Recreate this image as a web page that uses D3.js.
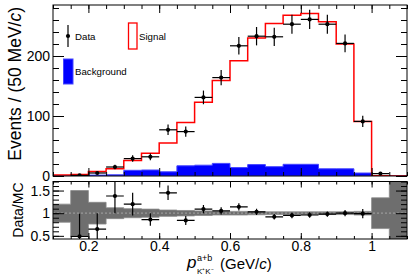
<!DOCTYPE html>
<html>
<head>
<meta charset="utf-8">
<script src="https://cdn.jsdelivr.net/npm/d3@7"></script>
<style>
body { margin: 0; background: #fff; }
text { font-family: "Liberation Sans", Arial, sans-serif; fill: #000; }
</style>
</head>
<body>
<div id="main"></div>
<script>
// bins of 50 MeV/c, low edges
var binLow = [0.10, 0.15, 0.20, 0.25, 0.30, 0.35, 0.40, 0.45, 0.50, 0.55,
  0.60, 0.65, 0.70, 0.75, 0.80, 0.85, 0.90, 0.95, 1.00, 1.05];
var binWidth = 0.05;

var dataCounts = [null, 1, 5, 15, 29, 32, 77, 74, 131, 164, 217, 233, 232, 253, 261, 253, 221, 91, 4, null];
var dataErrors = [null, 1, 2.2, 3.9, 5.4, 5.7, 8.8, 8.6, 11.4, 12.8, 14.7, 15.3, 15.2, 15.9, 16.2, 15.9, 14.9, 9.5, 2, null];
var signalTotal = [1.5, 2.5, 7.5, 12, 26, 38, 55, 89, 123, 159, 192, 230, 254, 268, 271, 257, 220, 91, 0.3, 0];
var background = [0, 0.5, 1.5, 2, 9.5, 10, 7, 17, 18, 21, 14, 19, 15.5, 19.5, 19.5, 12, 12, 5, 0.5, 0];

var ratio = [null, 0.49, 0.65, 1.38, 1.2, 0.86, 1.45, 0.84, 1.09, 1.05, 1.14, 1.03, 0.92, 0.95, 0.96, 0.98, 1.0, 0.99, null, null];
var ratioErrors = [null, 0.5, 0.35, 0.38, 0.25, 0.14, 0.16, 0.1, 0.09, 0.08, 0.08, 0.07, 0.06, 0.06, 0.06, 0.06, 0.07, 0.1, null, null];
var mcBand = [0.2, 0.5, 0.24, 0.12, 0.1, 0.09, 0.07, 0.06, 0.05, 0.04, 0.04, 0.035, 0.03, 0.03, 0.03, 0.03, 0.03, 0.04, 0.34, 0.9];

var xTickLabels = [0.2, 0.4, 0.6, 0.8, 1];
var yTicksTop = [0, 100, 200];
var yTicksBottom = [0.5, 1, 1.5];
var legendLabels = ["Data", "Signal", "Background"];

var W = 411, H = 279;
var left = 53, right = 407;
var top1 = 5, bot1 = 176;
var top2 = 181.5, bot2 = 239;

var svg = d3.select("#main").append("svg")
  .attr("width", W)
  .attr("height", H);

var x = d3.scaleLinear().domain([0.1, 1.1]).range([left, right]);
var y = d3.scaleLinear().domain([0, 285]).range([bot1, top1]);
var yr = d3.scaleLinear().domain([0.43, 1.7]).range([bot2, top2]);

svg.append("clipPath").attr("id", "clipTop")
  .append("rect").attr("x", left).attr("y", top1).attr("width", right - left).attr("height", bot1 - top1);
svg.append("clipPath").attr("id", "clipBot")
  .append("rect").attr("x", left).attr("y", top2).attr("width", right - left).attr("height", bot2 - top2);

function stepPoints(vals) {
  var pts = [];
  vals.forEach(function(v, i) {
    pts.push([binLow[i], v]);
    pts.push([binLow[i] + binWidth, v]);
  });
  return pts;
}

// ---- top pad ----
var gTop = svg.append("g").attr("clip-path", "url(#clipTop)");

var bgArea = d3.area()
  .x(function(d) { return x(d[0]); })
  .y0(y(0))
  .y1(function(d) { return y(d[1]); });

gTop.append("path")
  .datum(stepPoints(background))
  .attr("d", bgArea)
  .attr("fill", "#0000ff")
  .attr("stroke", "#4646ff")
  .attr("stroke-width", 1);

var sigLine = d3.line()
  .x(function(d) { return x(d[0]); })
  .y(function(d) { return y(d[1]); });

gTop.append("path")
  .datum(stepPoints(signalTotal))
  .attr("d", sigLine)
  .attr("fill", "none")
  .attr("stroke", "#ff0000")
  .attr("stroke-width", 1.5);

var pts = binLow.map(function(lo, i) {
  return {c: lo + binWidth / 2, v: dataCounts[i], e: dataErrors[i]};
}).filter(function(d) { return d.v != null; });

var dp = gTop.selectAll(".dpt").data(pts).enter().append("g").attr("class", "dpt");
dp.append("line")
  .attr("x1", function(d) { return x(d.c - binWidth / 2); })
  .attr("x2", function(d) { return x(d.c + binWidth / 2); })
  .attr("y1", function(d) { return y(d.v); })
  .attr("y2", function(d) { return y(d.v); })
  .attr("stroke", "#000").attr("stroke-width", 1.2);
dp.append("line")
  .attr("x1", function(d) { return x(d.c); })
  .attr("x2", function(d) { return x(d.c); })
  .attr("y1", function(d) { return y(d.v - d.e); })
  .attr("y2", function(d) { return y(d.v + d.e); })
  .attr("stroke", "#000").attr("stroke-width", 1.2);
dp.append("circle")
  .attr("cx", function(d) { return x(d.c); })
  .attr("cy", function(d) { return y(d.v); })
  .attr("r", 2.1)
  .attr("fill", "#000");

// ---- bottom pad ----
var gBot = svg.append("g").attr("clip-path", "url(#clipBot)");

var bandArea = d3.area()
  .x(function(d) { return x(d[0]); })
  .y0(function(d) { return yr(1 - d[1]); })
  .y1(function(d) { return yr(1 + d[1]); });

gBot.append("path")
  .datum(stepPoints(mcBand))
  .attr("d", bandArea)
  .attr("fill", "#6e6e6e")
  .attr("stroke", "#8a8a8a")
  .attr("stroke-width", 0.8);

gBot.append("line")
  .attr("x1", x(0.1)).attr("x2", x(1.1))
  .attr("y1", yr(1)).attr("y2", yr(1))
  .attr("stroke", "#999")
  .attr("stroke-width", 1.3)
  .attr("stroke-dasharray", "2,2");

var rpts = binLow.map(function(lo, i) {
  return {c: lo + binWidth / 2, v: ratio[i], e: ratioErrors[i]};
}).filter(function(d) { return d.v != null; });

var rp = gBot.selectAll(".rpt").data(rpts).enter().append("g").attr("class", "rpt");
rp.append("line")
  .attr("x1", function(d) { return x(d.c - binWidth / 2); })
  .attr("x2", function(d) { return x(d.c + binWidth / 2); })
  .attr("y1", function(d) { return yr(d.v); })
  .attr("y2", function(d) { return yr(d.v); })
  .attr("stroke", "#000").attr("stroke-width", 1.2);
rp.append("line")
  .attr("x1", function(d) { return x(d.c); })
  .attr("x2", function(d) { return x(d.c); })
  .attr("y1", function(d) { return yr(d.v - d.e); })
  .attr("y2", function(d) { return yr(d.v + d.e); })
  .attr("stroke", "#000").attr("stroke-width", 1.2);
rp.append("circle")
  .attr("cx", function(d) { return x(d.c); })
  .attr("cy", function(d) { return yr(d.v); })
  .attr("r", 2.1)
  .attr("fill", "#000");

// ---- axes (ROOT style, ticks inside on all sides) ----
function cleanAxis(g) {
  g.select(".domain").remove();
  g.selectAll("line").attr("stroke", "#000");
  g.selectAll("text").style("font-size", "14px").style("font-family", "'Liberation Sans', Arial, sans-serif");
}

function drawAxes(ys, yMajor, yMinor, yTop, yBot, xMaj, xMin, yMajLen, yMinLen) {
  var xMinor = x.ticks(20);
  svg.append("g").attr("transform", "translate(0," + yBot + ")")
    .call(d3.axisBottom(x).tickValues(xMinor).tickSize(-xMin).tickFormat("")).call(cleanAxis);
  svg.append("g").attr("transform", "translate(0," + yTop + ")")
    .call(d3.axisTop(x).tickValues(xMinor).tickSize(-xMin).tickFormat("")).call(cleanAxis);
  svg.append("g").attr("transform", "translate(0," + yTop + ")")
    .call(d3.axisTop(x).tickValues(xTickLabels).tickSize(-xMaj).tickFormat("")).call(cleanAxis);
  svg.append("g").attr("transform", "translate(" + left + ",0)")
    .call(d3.axisLeft(ys).tickValues(yMinor).tickSize(-yMinLen).tickFormat("")).call(cleanAxis);
  svg.append("g").attr("transform", "translate(" + left + ",0)")
    .call(d3.axisLeft(ys).tickValues(yMajor).tickSize(-yMajLen).tickPadding(3).tickFormat(d3.format("~g"))).call(cleanAxis);
  svg.append("g").attr("transform", "translate(" + right + ",0)")
    .call(d3.axisRight(ys).tickValues(yMinor).tickSize(-yMinLen).tickFormat("")).call(cleanAxis);
  svg.append("g").attr("transform", "translate(" + right + ",0)")
    .call(d3.axisRight(ys).tickValues(yMajor).tickSize(-yMajLen).tickFormat("")).call(cleanAxis);
  svg.append("rect")
    .attr("x", left).attr("y", yTop)
    .attr("width", right - left).attr("height", yBot - yTop)
    .attr("fill", "none").attr("stroke", "#000").attr("stroke-width", 1);
}

drawAxes(y, yTicksTop, y.ticks(15), top1, bot1, 8, 4, 11, 6);
svg.append("g").attr("transform", "translate(0," + bot1 + ")")
  .call(d3.axisBottom(x).tickValues(xTickLabels).tickSize(-8).tickFormat("")).call(cleanAxis);

drawAxes(yr, yTicksBottom, yr.ticks(12), top2, bot2, 6, 3, 11, 6);
svg.append("g").attr("transform", "translate(0," + bot2 + ")")
  .call(d3.axisBottom(x).tickValues(xTickLabels).tickSize(-6).tickPadding(2).tickFormat(d3.format("~g"))).call(cleanAxis);

// ---- axis titles ----
var yt = svg.append("text")
  .attr("transform", "translate(21," + (top1 + 2) + ") rotate(-90)")
  .attr("text-anchor", "end")
  .style("font-size", "17.5px");
yt.append("tspan").text("Events / (50 MeV/");
yt.append("tspan").style("font-style", "italic").text("c");
yt.append("tspan").text(")");

svg.append("text")
  .attr("transform", "translate(23," + (top2 + 1) + ") rotate(-90)")
  .attr("text-anchor", "end")
  .style("font-size", "14px")
  .text("Data/MC");

var cx = x(0.6);
svg.append("text")
  .attr("x", cx - 43).attr("y", 268)
  .style("font-size", "17px").style("font-style", "italic")
  .text("p");
svg.append("text")
  .attr("x", cx - 33).attr("y", 261)
  .style("font-size", "9px")
  .text("a+b");
svg.append("text")
  .attr("x", cx - 33).attr("y", 274)
  .style("font-size", "8px")
  .text("K\u207AK\u207B");
var xt = svg.append("text")
  .attr("x", cx - 10).attr("y", 268.5)
  .style("font-size", "15px");
xt.append("tspan").text("(GeV/");
xt.append("tspan").style("font-style", "italic").text("c");
xt.append("tspan").text(")");

// ---- legend ----
var leg = svg.append("g").attr("class", "legend");
leg.append("line").attr("x1", 68).attr("x2", 68).attr("y1", 25).attr("y2", 47)
  .attr("stroke", "#000").attr("stroke-width", 1.2);
leg.append("circle").attr("cx", 68).attr("cy", 36).attr("r", 2.1).attr("fill", "#000");
leg.append("text").attr("x", 75).attr("y", 39.5).style("font-size", "9.7px").text(legendLabels[0]);

leg.append("rect").attr("x", 128.5).attr("y", 23).attr("width", 8.5).attr("height", 26)
  .attr("fill", "#fff").attr("stroke", "#ff0000").attr("stroke-width", 1.3);
leg.append("text").attr("x", 139).attr("y", 39.5).style("font-size", "9.7px").text(legendLabels[1]);

leg.append("rect").attr("x", 63.5).attr("y", 59).attr("width", 9.5).attr("height", 25)
  .attr("fill", "#0000ff").attr("stroke", "#4646ff").attr("stroke-width", 1);
leg.append("text").attr("x", 75).attr("y", 75).style("font-size", "9.7px").text(legendLabels[2]);
</script>
</body>
</html>
